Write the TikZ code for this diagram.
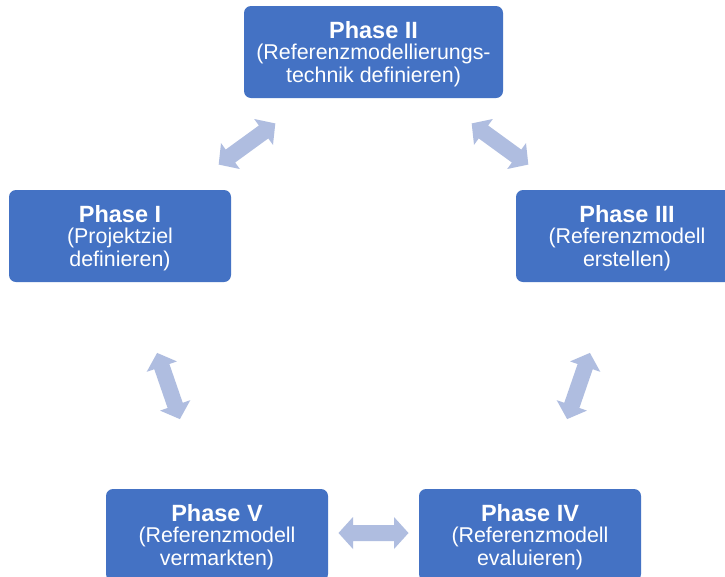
\documentclass[tikz,border=0pt]{standalone}
\usepackage{fontspec}
\setmainfont{Liberation Sans}
\definecolor{boxblue}{HTML}{4472C4}
\definecolor{arrowblue}{HTML}{AFBDE0}
\newcommand{\phtitle}[1]{{\fontsize{23.5}{22.5}\selectfont\bfseries\rule{0pt}{21.5pt}#1}}
\tikzset{
  phasebox/.style={fill=boxblue, rounded corners=7pt, text=white, align=center,
    inner sep=0pt, minimum height=92pt, minimum width=222pt,
    font=\fontsize{21.4}{22.5}\selectfont},
  dblarrow/.pic={\fill[arrowblue] (-35,0) -- (-20.5,-16) -- (-20.5,-8) -- (20.5,-8)
    -- (20.5,-16) -- (35,0) -- (20.5,16) -- (20.5,8) -- (-20.5,8) -- (-20.5,16) -- cycle;}
}
\begin{document}
\begin{tikzpicture}[x=1pt,y=-1pt]
\clip (0,0) rectangle (725,576);
\fill[white] (0,0) rectangle (725,576);
\node[phasebox, minimum width=259pt] (p2) at (373.5,52) {\phtitle{Phase II}\\[-1.5pt](Referenzmodellierungs-\\technik definieren)};
\node[phasebox] (p1) at (120,236) {\phtitle{Phase I}\\[-1.5pt](Projektziel\\definieren)};
\node[phasebox] (p3) at (627,236) {\phtitle{Phase III}\\[-1.5pt](Referenzmodell\\erstellen)};
\node[phasebox] (p5) at (217,535) {\phtitle{Phase V}\\[-1.5pt](Referenzmodell\\vermarkten)};
\node[phasebox] (p4) at (530,535) {\phtitle{Phase IV}\\[-1.5pt](Referenzmodell\\evaluieren)};
\pic (a12) [rotate=36] at (247,144) {dblarrow};
\pic (a23) [rotate=-36] at (500,144) {dblarrow};
\pic (a15) [rotate=-71] at (168.5,386) {dblarrow};
\pic (a34) [rotate=71] at (578.5,386) {dblarrow};
\pic (a45) at (373.5,533) {dblarrow};
\end{tikzpicture}
\end{document}
